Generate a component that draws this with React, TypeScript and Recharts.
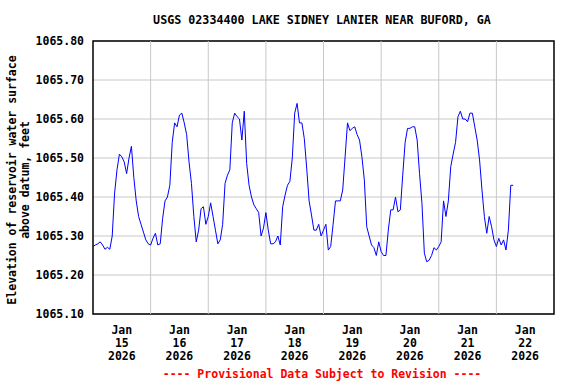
import { LineChart, Line, XAxis, YAxis, CartesianGrid, ReferenceLine, ReferenceArea } from 'recharts';

// hourly lake elevation, starting Jan 15 2026 00:00
const elevation = [
  1065.273, 1065.277, 1065.280, 1065.285, 1065.277, 1065.266, 1065.271, 1065.266,
  1065.300, 1065.410, 1065.470, 1065.510, 1065.503, 1065.490, 1065.460, 1065.500,
  1065.530, 1065.450, 1065.390, 1065.350, 1065.330, 1065.310, 1065.290, 1065.280,
  1065.277, 1065.294, 1065.307, 1065.277, 1065.280, 1065.345, 1065.390, 1065.400,
  1065.430, 1065.540, 1065.590, 1065.580, 1065.610, 1065.615, 1065.590, 1065.560,
  1065.490, 1065.435, 1065.350, 1065.285, 1065.315, 1065.370, 1065.375, 1065.330,
  1065.350, 1065.385, 1065.350, 1065.315, 1065.280, 1065.290, 1065.330, 1065.435,
  1065.456, 1065.470, 1065.590, 1065.615, 1065.606, 1065.600, 1065.546, 1065.620,
  1065.486, 1065.430, 1065.400, 1065.380, 1065.370, 1065.360, 1065.300, 1065.320,
  1065.360, 1065.315, 1065.280, 1065.280, 1065.285, 1065.300, 1065.277, 1065.375,
  1065.405, 1065.430, 1065.440, 1065.500, 1065.615, 1065.640, 1065.590, 1065.590,
  1065.550, 1065.474, 1065.390, 1065.354, 1065.315, 1065.315, 1065.330, 1065.300,
  1065.315, 1065.330, 1065.264, 1065.273, 1065.330, 1065.390, 1065.390, 1065.390,
  1065.418, 1065.503, 1065.590, 1065.570, 1065.576, 1065.580, 1065.560, 1065.546,
  1065.503, 1065.444, 1065.324, 1065.300, 1065.277, 1065.270, 1065.250, 1065.285,
  1065.260, 1065.250, 1065.250, 1065.315, 1065.367, 1065.367, 1065.400, 1065.362,
  1065.367, 1065.456, 1065.540, 1065.576, 1065.576, 1065.580, 1065.580, 1065.546,
  1065.460, 1065.384, 1065.256, 1065.234, 1065.238, 1065.250, 1065.270, 1065.264,
  1065.273, 1065.285, 1065.390, 1065.350, 1065.390, 1065.478, 1065.510, 1065.540,
  1065.606, 1065.620, 1065.600, 1065.600, 1065.593, 1065.615, 1065.615, 1065.580,
  1065.546, 1065.495, 1065.418, 1065.350, 1065.307, 1065.350, 1065.324, 1065.290,
  1065.273, 1065.294, 1065.277, 1065.290, 1065.264, 1065.315, 1065.430, 1065.430,
];

const dayLabels = ['15', '16', '17', '18', '19', '20', '21', '22'];
const monthLabel = 'Jan';
const yearLabel = '2026';
const dayBoundaries = [24, 48, 72, 96, 120, 144, 168];
const noonTicks = [12, 36, 60, 84, 108, 132, 156, 180];
const yTicks = [1065.1, 1065.2, 1065.3, 1065.4, 1065.5, 1065.6, 1065.7, 1065.8];

const data = elevation.map((v, i) => ({ hour: i, value: v }));

const font = '"DejaVu Sans Mono", monospace';

const DayTick = (props: any) => {
  const { x, y, payload } = props;
  const idx = noonTicks.indexOf(payload.value);
  return (
    <text x={x} y={y} textAnchor="middle" fontFamily={font} fontWeight="bold" fontSize={11.5} fill="#000">
      <tspan x={x} dy={12}>{monthLabel}</tspan>
      <tspan x={x} dy={13}>{dayLabels[idx]}</tspan>
      <tspan x={x} dy={13}>{yearLabel}</tspan>
    </text>
  );
};

export default function App() {
  return (
    <div style={{ position: 'absolute', left: 0, top: 0, width: 576, height: 384, background: '#fff' }}>
      <LineChart
        width={576}
        height={384}
        data={data}
        margin={{ top: 41, right: 22, bottom: 0, left: 13 }}
      >
        <CartesianGrid vertical={false} stroke="#c8c8c8" />
        {dayBoundaries.map((d) => (
          <ReferenceLine key={d} x={d} stroke="#c8c8c8" />
        ))}
        <XAxis
          dataKey="hour"
          type="number"
          domain={[0, 192]}
          ticks={noonTicks}
          tick={<DayTick />}
          tickLine={false}
          axisLine={false}
          height={70}
          interval={0}
        />
        <YAxis
          type="number"
          domain={[1065.1, 1065.8]}
          ticks={yTicks}
          width={80}
          tickLine={false}
          axisLine={false}
          tickSize={6}
          tickMargin={3}
          interval={0}
          tickFormatter={(v: number) => v.toFixed(2)}
          tick={{ fill: '#000', fontFamily: font, fontWeight: 'bold', fontSize: 11.5 }}
        />
        <Line
          type="linear"
          dataKey="value"
          stroke="#0000ff"
          strokeWidth={1}
          dot={false}
          isAnimationActive={false}
        />
        <ReferenceArea x1={0} x2={192} y1={1065.1} y2={1065.8} fill="none" stroke="#000" strokeWidth={1.5} fillOpacity={0} />
      </LineChart>
      <svg width={576} height={384} style={{ position: 'absolute', left: 0, top: 0, pointerEvents: 'none' }}>
        <text x={322} y={24} textAnchor="middle" fontFamily={font} fontWeight="bold" fontSize={11.7} fill="#000">
          USGS 02334400 LAKE SIDNEY LANIER NEAR BUFORD, GA
        </text>
        <text transform="translate(16,180) rotate(-90)" textAnchor="middle" fontFamily={font} fontWeight="bold" fontSize={11.5} fill="#000">
          Elevation of reservoir water surface
        </text>
        <text transform="translate(29,180) rotate(-90)" textAnchor="middle" fontFamily={font} fontWeight="bold" fontSize={11.5} fill="#000">
          above datum, feet
        </text>
        <text x={322} y={378} textAnchor="middle" fontFamily={font} fontWeight="bold" fontSize={11.5} fill="#ff0000">
          ---- Provisional Data Subject to Revision ----
        </text>
      </svg>
    </div>
  );
}
